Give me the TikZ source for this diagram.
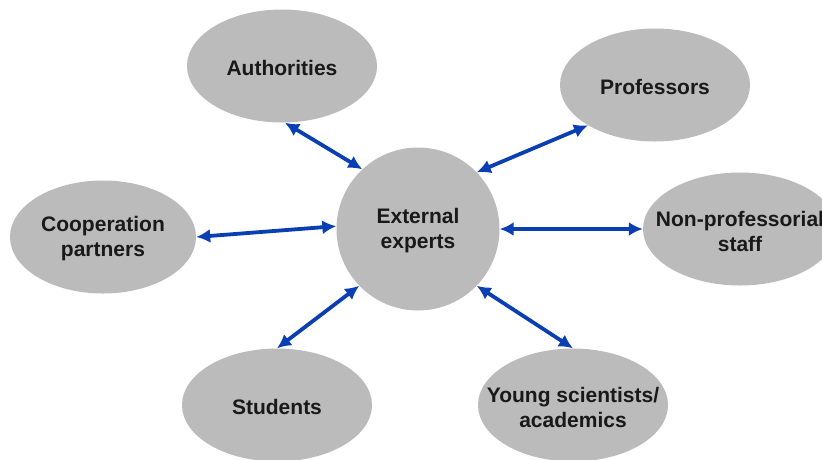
\documentclass[tikz,border=0pt]{standalone}
\usepackage{fontspec}
\setmainfont{Liberation Sans}
\definecolor{BubbleGray}{HTML}{BBBBBB}
\definecolor{LinkBlue}{HTML}{0A3FB4}
\usetikzlibrary{arrows.meta, shapes.geometric}

\begin{document}
\begin{tikzpicture}[
  x=1pt, y=-1pt,
  bubble/.style={ellipse, fill=BubbleGray, minimum width=190pt, minimum height=113pt,
    inner sep=0pt, label={[txt]center:#1}},
  txt/.style={align=center, inner sep=0pt, yshift=-2pt, text=black!90,
    font=\fontsize{21}{25}\selectfont\bfseries},
  hub/.style={circle, fill=BubbleGray, minimum size=163pt, inner sep=0pt,
    label={[txt]center:#1}},
  link/.style={{Latex[length=14pt,width=14pt]}-{Latex[length=14pt,width=14pt]},
    draw=LinkBlue, line width=3.8pt},
]
  \useasboundingbox (0,0) rectangle (822,459);
  \clip (0,0) rectangle (822,459);

  \node[hub={External\\experts}] (ext) at (418,229) {};
  \node[bubble={Authorities}] (auth) at (282,66) {};
  \node[bubble={Professors}] (prof) at (655,85) {};
  \node[bubble={Cooperation\\partners}, minimum width=186pt] (coop) at (103,237) {};
  \node[bubble={Non-professorial\\staff}, minimum width=194pt] (staff) at (740,229) {};
  \node[bubble={Students}] (stud) at (277,405) {};
  \node[bubble={Young scientists/\\academics}] (young) at (573,405) {};

  \draw[link] (auth.-87) -- (ext.133);
  \draw[link] (prof.-149) -- (ext.44);
  \draw[link] (coop.0) -- (ext.178);
  \draw[link] (staff.180) -- (ext.0);
  \draw[link] (stud.90) -- (ext.-136);
  \draw[link] (young.90) -- (ext.-44);
\end{tikzpicture}
\end{document}
